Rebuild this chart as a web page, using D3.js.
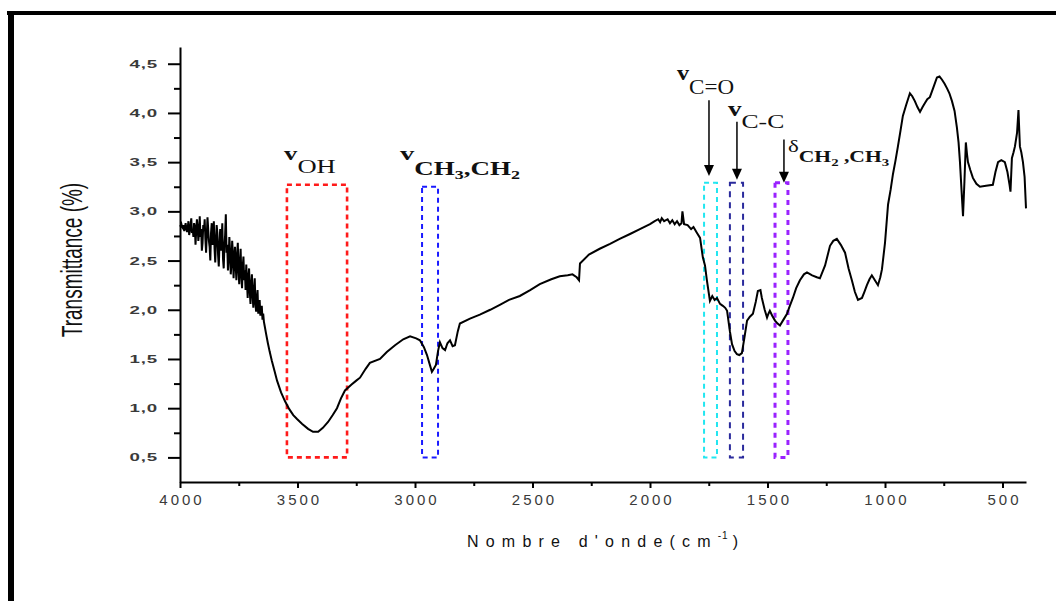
<!DOCTYPE html>
<html>
<head>
<meta charset="utf-8">
<script src="https://cdn.jsdelivr.net/npm/d3@7"></script>
<style>
  html, body { margin: 0; padding: 0; background: #fff; }
  svg { display: block; }
</style>
</head>
<body>
<svg id="chart" width="1056" height="601"></svg>
<script>
// FTIR spectrum: wavenumber (cm-1) and transmittance (%)
const wavenumber = [
  4000, 3997, 3994, 3991, 3988, 3985, 3982, 3979, 3976, 3973, 3970, 3967, 3964, 3961, 3958, 3955,
  3952, 3949, 3946, 3943, 3940, 3937, 3934, 3931, 3928, 3925, 3922, 3919, 3916, 3913, 3910, 3907,
  3904, 3901, 3898, 3895, 3892, 3889, 3886, 3883, 3880, 3877, 3874, 3871, 3868, 3865, 3862, 3859,
  3856, 3853, 3850, 3847, 3844, 3841, 3838, 3835, 3832, 3829, 3826, 3823, 3820, 3817, 3814, 3811,
  3808, 3805, 3802, 3799, 3796, 3793, 3790, 3787, 3784, 3781, 3778, 3775, 3772, 3769, 3766, 3763,
  3760, 3757, 3754, 3751, 3748, 3745, 3742, 3739, 3736, 3733, 3730, 3727, 3724, 3721, 3718, 3715,
  3712, 3709, 3706, 3703, 3700, 3697, 3694, 3691, 3688, 3685, 3682, 3679, 3676, 3673, 3670, 3667,
  3664, 3661, 3658, 3655, 3652, 3649, 3646, 3643, 3640, 3634, 3626, 3618,
  3609, 3598, 3587, 3570, 3553, 3535, 3518, 3502, 3480, 3455, 3434, 3412, 3392, 3370, 3350, 3332,
  3315, 3298, 3270, 3250, 3234, 3210, 3192, 3149, 3120, 3085, 3050, 3021, 2995, 2979, 2962, 2949,
  2938, 2928, 2920, 2911, 2902, 2894, 2883, 2872, 2862, 2851, 2840, 2830, 2818, 2809, 2766, 2724,
  2680, 2639, 2600, 2554, 2510, 2469, 2420, 2384, 2350, 2330, 2312, 2302, 2298, 2260, 2214, 2170,
  2129, 2085, 2043, 2000, 1980, 1965, 1957, 1950, 1940, 1925, 1915, 1905, 1895, 1885, 1875, 1866,
  1862, 1855, 1840, 1825, 1815, 1800, 1787, 1775, 1766, 1758, 1745, 1735, 1725, 1715, 1702, 1690,
  1680, 1672, 1660, 1651, 1640, 1630, 1620, 1609, 1598, 1587, 1575, 1562, 1550, 1541, 1530, 1524,
  1512, 1502, 1496, 1490, 1480, 1468, 1457, 1447, 1432, 1417, 1405, 1392, 1378, 1362, 1345, 1332,
  1310, 1290, 1277, 1255, 1234, 1220, 1205, 1188, 1170, 1155, 1141, 1128, 1115, 1098, 1088, 1077,
  1066, 1056, 1043, 1030, 1020, 1013, 1000, 987, 976, 966, 955, 945, 934, 924, 910, 894,
  884, 873, 862, 851, 840, 830, 820, 809, 794, 779, 768, 758, 747, 736, 726, 715,
  704, 694, 687, 681, 674, 668, 662, 656, 651, 647, 637, 626, 611, 596, 570, 541,
  530, 519, 505, 490, 479, 470, 466, 460, 453, 447, 438, 432, 430, 426, 420, 413,
  406, 400
];
const transmittance = [
  2.86, 2.85, 2.87, 2.84, 2.83, 2.86, 2.80, 2.84, 2.88, 2.82, 2.79, 2.84, 2.90, 2.76, 2.80, 2.86,
  2.93, 2.78, 2.82, 2.74, 2.88, 2.85, 2.66, 2.80, 2.92, 2.84, 2.70, 2.78, 2.95, 2.74, 2.82, 2.60,
  2.68, 2.86, 2.80, 2.92, 2.72, 2.58, 2.76, 2.94, 2.82, 2.70, 2.64, 2.50, 2.78, 2.88, 2.66, 2.72,
  2.90, 2.62, 2.48, 2.70, 2.86, 2.78, 2.56, 2.44, 2.66, 2.82, 2.60, 2.70, 2.88, 2.52, 2.42, 2.64,
  2.76, 2.97, 2.58, 2.66, 2.40, 2.52, 2.74, 2.60, 2.36, 2.46, 2.70, 2.58, 2.32, 2.50, 2.64, 2.44,
  2.30, 2.56, 2.68, 2.40, 2.26, 2.48, 2.62, 2.34, 2.22, 2.44, 2.54, 2.30, 2.40, 2.20, 2.46, 2.28,
  2.12, 2.34, 2.42, 2.18, 2.06, 2.26, 2.36, 2.14, 2.02, 2.20, 2.32, 2.06, 1.98, 2.12, 2.20, 1.96,
  2.04, 2.10, 1.94, 1.98, 2.04, 1.90, 1.96, 1.88, 1.84, 1.76, 1.66, 1.57,
  1.48, 1.38, 1.28, 1.16, 1.07, 0.99, 0.93, 0.89, 0.84, 0.79, 0.76, 0.76, 0.80, 0.86, 0.93, 1.00,
  1.10, 1.18, 1.24, 1.28, 1.31, 1.40, 1.46, 1.50, 1.57, 1.64, 1.70, 1.73, 1.71, 1.69, 1.62, 1.54,
  1.45, 1.37, 1.40, 1.44, 1.58, 1.67, 1.61, 1.59, 1.66, 1.69, 1.63, 1.64, 1.78, 1.86, 1.91, 1.95,
  2.00, 2.05, 2.10, 2.14, 2.20, 2.26, 2.31, 2.34, 2.35, 2.36, 2.33, 2.30, 2.47, 2.56, 2.62, 2.67,
  2.72, 2.77, 2.82, 2.87, 2.90, 2.92, 2.89, 2.93, 2.90, 2.92, 2.88, 2.91, 2.87, 2.90, 2.86, 2.88,
  3.00, 2.87, 2.86, 2.82, 2.84, 2.78, 2.73, 2.53, 2.45, 2.30, 2.09, 2.14, 2.10, 2.12, 2.06, 2.04,
  2.02, 1.99, 1.78, 1.65, 1.58, 1.55, 1.54, 1.56, 1.72, 1.89, 1.93, 1.96, 2.08, 2.19, 2.20, 2.12,
  2.00, 1.92, 1.96, 1.99, 1.94, 1.89, 1.86, 1.84, 1.90, 1.96, 2.04, 2.12, 2.22, 2.30, 2.36, 2.38,
  2.35, 2.33, 2.32, 2.45, 2.65, 2.70, 2.72, 2.66, 2.58, 2.42, 2.30, 2.18, 2.10, 2.12, 2.18, 2.25,
  2.31, 2.35, 2.30, 2.25, 2.33, 2.41, 2.68, 3.07, 3.22, 3.38, 3.52, 3.66, 3.82, 3.97, 4.08, 4.20,
  4.17, 4.12, 4.06, 4.01, 4.06, 4.10, 4.14, 4.16, 4.26, 4.36, 4.37, 4.34, 4.30, 4.25, 4.20, 4.12,
  4.02, 3.85, 3.70, 3.50, 3.20, 2.95, 3.30, 3.70, 3.58, 3.50, 3.42, 3.34, 3.28, 3.25, 3.26, 3.27,
  3.40, 3.50, 3.52, 3.50, 3.40, 3.27, 3.20, 3.54, 3.60, 3.66, 3.80, 4.03, 3.90, 3.66, 3.60, 3.50,
  3.35, 3.03
];

// Axis ticks
const xMajorTicks = [4000, 3500, 3000, 2500, 2000, 1500, 1000, 500];
const xMinorTicks = [3750, 3250, 2750, 2250, 1750, 1250, 750];
const yMajorTicks = [0.5, 1.0, 1.5, 2.0, 2.5, 3.0, 3.5, 4.0, 4.5];
const yMinorTicks = [0.75, 1.25, 1.75, 2.25, 2.75, 3.25, 3.75, 4.25];

// Assignment bands: wavenumber limits, top of frame, colour
const bandName = ["OH", "CH", "CO", "CC", "delta"];
const bandLow = [3545, 2970, 1770, 1660, 1468];
const bandHigh = [3289, 2902, 1715, 1604, 1413];
const bandTop = [3.27, 3.25, 3.29, 3.29, 3.29];
const bandBottom = 0.5;
const bandColor = ["#ff1a1a", "#1a1aff", "#22e6f0", "#2a2a9c", "#9a22ff"];

// Arrows: wavenumber, start value, tip value
const arrowWn = [1749, 1630, 1430];
const arrowFrom = [4.13, 3.91, 3.73];
const arrowTo = [3.36, 3.32, 3.29];

const svg = d3.select("#chart");
const x = d3.scaleLinear().domain([4000, 400]).range([180, 1026]);
const y = d3.scaleLinear().domain([0.25, 4.67]).range([482, 47]);

svg.append("rect").attr("width", 1056).attr("height", 601).attr("fill", "#fff");

// Outer frame (top and left thick rules)
svg.append("rect").attr("x", 7).attr("y", 11).attr("width", 1049).attr("height", 4).attr("fill", "#000");
svg.append("rect").attr("x", 8).attr("y", 11).attr("width", 6).attr("height", 590).attr("fill", "#000");

const sans = "'Liberation Sans', Arial, sans-serif";
const serif = "'Liberation Serif', 'Times New Roman', serif";

// X axis
const gx = svg.append("g").attr("transform", "translate(0,482)");
gx.call(d3.axisBottom(x).tickValues(xMajorTicks).tickSize(6).tickSizeOuter(0).tickPadding(6)
  .tickFormat(d3.format("d")));
gx.append("g").call(d3.axisBottom(x).tickValues(xMinorTicks).tickSize(4).tickFormat(""))
  .select(".domain").remove();
gx.selectAll("path.domain").attr("stroke", "#000").attr("stroke-width", 2);
gx.selectAll(".tick line").attr("stroke", "#000").attr("stroke-width", 2);
gx.selectAll(".tick text")
  .attr("font-family", sans).attr("font-size", 15).attr("fill", "#3a3a3a")
  .attr("letter-spacing", "3px").attr("dx", "1.5px");

// Y axis
const yScaleX = 1.7;
const gy = svg.append("g").attr("transform", "translate(180,0)");
gy.call(d3.axisLeft(y).tickValues(yMajorTicks).tickSize(12).tickSizeOuter(0).tickPadding(10)
  .tickFormat(d => d.toFixed(1).replace(".", ",")));
gy.append("g").call(d3.axisLeft(y).tickValues(yMinorTicks).tickSize(6).tickFormat(""))
  .select(".domain").remove();
gy.selectAll("path.domain").attr("stroke", "#000").attr("stroke-width", 2);
gy.selectAll(".tick line").attr("stroke", "#000").attr("stroke-width", 2);
gy.selectAll(".tick text")
  .attr("font-family", sans).attr("font-size", 11).attr("font-weight", "bold").attr("fill", "#3a3a3a")
  .attr("letter-spacing", "0.5px")
  .attr("x", -22 / yScaleX)
  .attr("transform", `scale(${yScaleX},1)`);

// Axis titles
svg.append("text")
  .attr("transform", "translate(82,260) rotate(-90) scale(1,1.6)")
  .attr("text-anchor", "middle")
  .attr("font-family", sans).attr("font-size", 19).attr("fill", "#111")
  .text("Transmittance (%)");

const xt = svg.append("text")
  .attr("x", 467).attr("y", 547)
  .attr("font-family", sans).attr("font-size", 16).attr("fill", "#111")
  .attr("letter-spacing", "7.2px");
xt.append("tspan").text("Nombre d'onde(cm");
xt.append("tspan").attr("font-size", 10).attr("dy", -8).attr("letter-spacing", "1px").text("-1");
xt.append("tspan").attr("dy", 8).attr("dx", 4).text(")");

// Assignment bands
const bands = bandName.map((n, i) => ({ n, lo: bandLow[i], hi: bandHigh[i], top: bandTop[i], c: bandColor[i] }));
svg.append("g").selectAll("rect").data(bands).join("rect")
  .attr("x", d => x(d.lo))
  .attr("y", d => y(d.top))
  .attr("width", d => x(d.hi) - x(d.lo))
  .attr("height", d => y(bandBottom) - y(d.top))
  .attr("fill", "none")
  .attr("stroke", d => d.c)
  .attr("stroke-width", d => d.n === "delta" ? 3 : (d.n === "OH" ? 2.6 : 2))
  .attr("stroke-dasharray", d => d.n === "delta" ? "5,5" : (d.n === "CC" ? "6,5" : "5,4"));

// Spectrum
const points = wavenumber.map((w, i) => [w, transmittance[i]]);
svg.append("path")
  .datum(points)
  .attr("fill", "none")
  .attr("stroke", "#000")
  .attr("stroke-width", 2)
  .attr("stroke-linejoin", "miter")
  .attr("d", d3.line().x(d => x(d[0])).y(d => y(d[1])));

// Arrows pointing to bands
const arrows = arrowWn.map((w, i) => ({ w, a: arrowFrom[i], b: arrowTo[i] }));
const ga = svg.append("g");
ga.selectAll("line").data(arrows).join("line")
  .attr("x1", d => x(d.w)).attr("x2", d => x(d.w))
  .attr("y1", d => y(d.a)).attr("y2", d => y(d.b) - 8)
  .attr("stroke", "#000").attr("stroke-width", 1.5);
ga.selectAll("path").data(arrows).join("path")
  .attr("d", d => {
    const px = x(d.w), py = y(d.b);
    return `M${px - 5},${py - 11} L${px + 5},${py - 11} L${px},${py} Z`;
  })
  .attr("fill", "#000");

// Band labels: symbol on the baseline, then a subscript group set lower
function label(wn, val, sx, symbol, symBold, symSize, drop, parts, bold, size) {
  const t = svg.append("text")
    .attr("transform", `translate(${x(wn)},${y(val)}) scale(${sx},1)`)
    .attr("font-family", serif).attr("fill", "#111");
  t.append("tspan").attr("font-size", symSize).attr("font-weight", symBold ? "bold" : "normal").text(symbol);
  let level = 0;
  parts.forEach(p => {
    const target = drop + (p.sub ? 4 : 0);
    t.append("tspan")
      .attr("font-size", p.sub ? Math.round(size * 0.68) : size)
      .attr("font-weight", bold ? "bold" : "normal")
      .attr("dy", target - level)
      .text(p.t);
    level = target;
  });
  return t;
}

label(3557, 3.52, 1.4, "v", true, 19, 13, [{ t: "OH" }], false, 19);
label(3064, 3.52, 1.5, "v", true, 19, 15, [{ t: "CH" }, { t: "3", sub: true }, { t: ",CH" }, { t: "2", sub: true }], true, 18);
label(1885, 4.33, 1.15, "v", true, 21, 14, [{ t: "C=O" }], false, 20);
label(1668, 3.97, 1.35, "v", true, 20, 12, [{ t: "C-C" }], false, 19);
label(1413, 3.60, 1.35, "δ", false, 17, 10, [{ t: "CH" }, { t: "2", sub: true }, { t: " ,CH" }, { t: "3", sub: true }], true, 16);
</script>
</body>
</html>
